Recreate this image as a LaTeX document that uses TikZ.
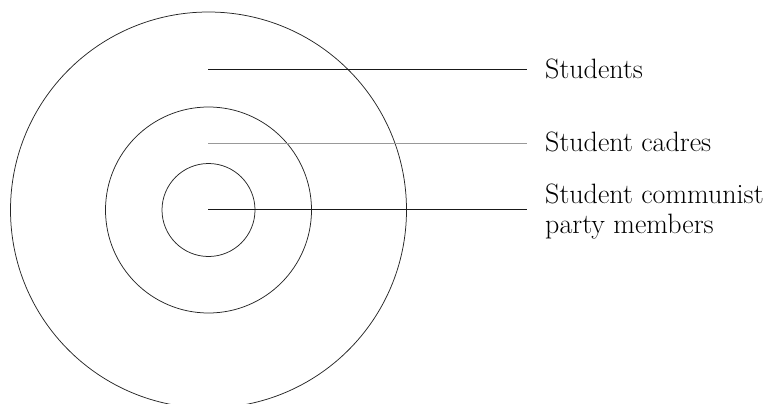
\documentclass[tikz,border=0pt]{standalone}
\usetikzlibrary{positioning}

\begin{document}
\begin{tikzpicture}[x=1pt, y=-1pt,
    ring/.style={draw=black!85, line width=0.75pt},
    lead/.style={draw=black!90, line width=0.8pt, shorten >=18pt},
    lbl/.style={anchor=base west, inner sep=0pt, align=left,
      font=\fontsize{28}{30}\selectfont}]
  \useasboundingbox (0,0) rectangle (764,404);
  \clip (0,0) rectangle (764,404);

  \coordinate (c) at (208.5,210);
  \foreach \r in {198, 103, 46.5}{
    \draw[ring] (c) circle[radius=\r];
  }

  % labels
  \node[lbl] (stu) at (545,79) {Students};
  \node[lbl] (cad) at (545,151.5) {Student cadres};
  \node[lbl] (mem) at (545,233) {Student communist\\party members};

  % leader lines
  \coordinate (p1) at (208,69);
  \coordinate (p2) at (208,143.7);
  \coordinate (p3) at (208,209.7);
  \draw[lead] (p1) -- (p1 -| stu.west);
  \draw[lead, draw=black!40] (p2) -- (p2 -| cad.west);
  \draw[lead] (p3) -- (p3 -| mem.west);
\end{tikzpicture}
\end{document}
